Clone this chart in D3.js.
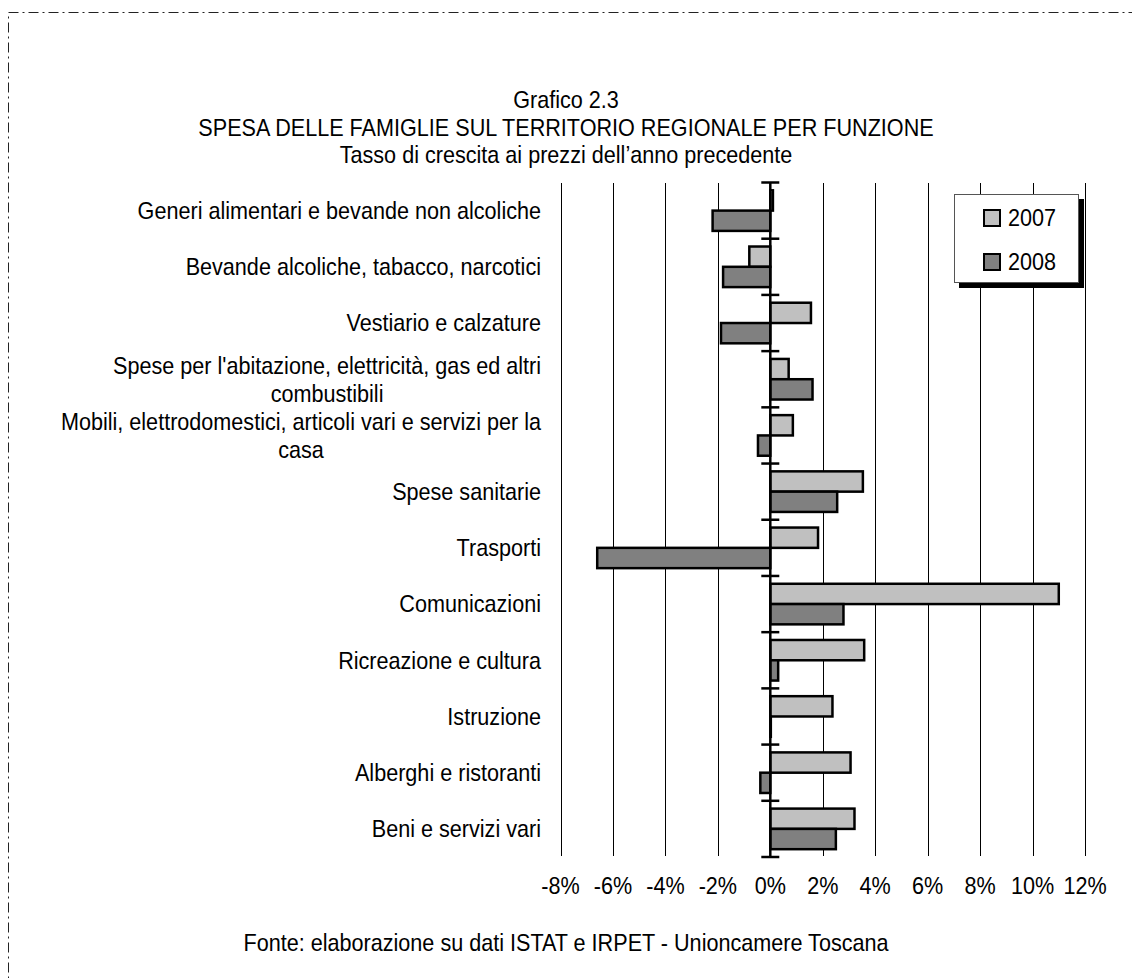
<!DOCTYPE html>
<html>
<head>
<meta charset="utf-8">
<script src="https://cdn.jsdelivr.net/npm/d3@7"></script>
<style>
  body { margin: 0; background: #fff; }
  text { font-family: "Liberation Sans", Arial, sans-serif; fill: #000; }
</style>
</head>
<body>
<div id="main"></div>
<script>
// categories, top to bottom
const categories = [
  ['Generi alimentari e bevande non alcoliche'],
  ['Bevande alcoliche, tabacco, narcotici'],
  ['Vestiario e calzature'],
  ["Spese per l'abitazione, elettricità, gas ed altri", 'combustibili'],
  ['Mobili, elettrodomestici, articoli vari e servizi per la', 'casa'],
  ['Spese sanitarie'],
  ['Trasporti'],
  ['Comunicazioni'],
  ['Ricreazione e cultura'],
  ['Istruzione'],
  ['Alberghi e ristoranti'],
  ['Beni e servizi vari']
];
const years = ['2007', '2008'];
// growth rates in %
const values2007 = [0.1, -0.8, 1.55, 0.7, 0.86, 3.53, 1.82, 11.0, 3.58, 2.37, 3.06, 3.21];
const values2008 = [-2.2, -1.8, -1.88, 1.61, -0.47, 2.55, -6.6, 2.79, 0.3, 0.02, -0.38, 2.5];
const xTicks = [-8, -6, -4, -2, 0, 2, 4, 6, 8, 10, 12];
const titleLines = ['Grafico 2.3',
  'SPESA DELLE FAMIGLIE SUL TERRITORIO REGIONALE PER FUNZIONE',
  'Tasso di crescita ai prezzi dell\u2019anno precedente'];
const sourceText = 'Fonte: elaborazione su dati ISTAT e IRPET - Unioncamere Toscana';

const colors = { '2007': '#c0c0c0', '2008': '#808080' };
const width = 1132, height = 978;
const fs = 24;      // font size
const sx = 0.9;     // horizontal squeeze, narrow look

let svg = d3.select('#main')
  .append('svg')
    .attr('width', width)
    .attr('height', height);

// place a squeezed text at (x, y)
function label(sel, x, y, anchor) {
  return sel.append('text')
    .attr('transform', `translate(${x},${y}) scale(${sx},1)`)
    .attr('dy', '0.35em')
    .attr('text-anchor', anchor)
    .style('font-size', fs + 'px');
}

// dash-dot frame (only top and left edges fall inside the page)
svg.append('rect')
  .attr('x', 8.5).attr('y', 12.5)
  .attr('width', 1200).attr('height', 1100)
  .attr('fill', 'none')
  .attr('stroke', '#222')
  .attr('stroke-width', 1)
  .attr('stroke-dasharray', '10 4 2 4');

// scales
const x = d3.scaleLinear().domain([-8, 12]).range([560.5, 1085]);
const y = d3.scaleBand().domain(d3.range(categories.length)).range([182.5, 857]).padding(0);
const y1 = d3.scaleBand().domain(years).range([0, y.bandwidth()]).paddingInner(0).paddingOuter(0.385);

// gridlines
svg.append('g')
  .selectAll('line')
  .data(xTicks.filter(d => d !== 0))
  .enter()
  .append('line')
    .attr('x1', d => Math.round(x(d)) + 0.5)
    .attr('x2', d => Math.round(x(d)) + 0.5)
    .attr('y1', 183).attr('y2', 856)
    .attr('stroke', '#000')
    .attr('stroke-width', 1);

// bars
const data = [];
categories.forEach((c, i) => {
  data.push({ i: i, year: '2007', v: values2007[i] });
  data.push({ i: i, year: '2008', v: values2008[i] });
});

svg.append('g')
  .selectAll('rect')
  .data(data)
  .enter()
  .append('rect')
    .attr('x', d => x(Math.min(0, d.v)))
    .attr('y', d => y(d.i) + y1(d.year))
    .attr('width', d => Math.abs(x(d.v) - x(0)))
    .attr('height', y1.bandwidth())
    .attr('fill', d => colors[d.year])
    .attr('stroke', '#000')
    .attr('stroke-width', 2.5);

// zero axis with category cross ticks
const zx = x(0);
svg.append('line')
  .attr('x1', zx).attr('x2', zx)
  .attr('y1', y.range()[0]).attr('y2', y.range()[1])
  .attr('stroke', '#000').attr('stroke-width', 2.5);

svg.append('g')
  .selectAll('line')
  .data(d3.range(categories.length + 1))
  .enter()
  .append('line')
    .attr('x1', zx - 9).attr('x2', zx + 9)
    .attr('y1', d => y.range()[0] + d * y.step())
    .attr('y2', d => y.range()[0] + d * y.step())
    .attr('stroke', '#000').attr('stroke-width', 2.5);

// category labels
const lineH = 28;
const catG = svg.append('g');
categories.forEach((lines, i) => {
  const cy = y(i) + y.bandwidth() / 2;
  if (lines.length === 1) {
    label(catG, 541, cy, 'end').text(lines[0]);
  } else {
    const t0 = label(catG, 541, cy - lineH / 2, 'end').text(lines[0]);
    const w = t0.node().getComputedTextLength() * sx;
    label(catG, 541 - w / 2, cy + lineH / 2, 'middle').text(lines[1]);
  }
});

// x tick labels
const tickG = svg.append('g');
xTicks.forEach(d => label(tickG, x(d), 886, 'middle').text(d + '%'));

// titles
const titleG = svg.append('g');
titleLines.forEach((t, i) => label(titleG, 566, 100 + i * 27.5, 'middle').text(t));

// source
label(svg, 566, 943, 'middle').text(sourceText);

// legend with shadow
const lg = svg.append('g');
lg.append('rect')
  .attr('x', 959).attr('y', 199)
  .attr('width', 125).attr('height', 89)
  .attr('fill', '#000');
lg.append('rect')
  .attr('x', 954.5).attr('y', 194.5)
  .attr('width', 124).attr('height', 88)
  .attr('fill', '#fff')
  .attr('stroke', '#555').attr('stroke-width', 1);

years.forEach((yr, i) => {
  const g = lg.append('g').attr('transform', `translate(984,${210 + i * 44})`);
  g.append('rect')
    .attr('width', 16).attr('height', 16)
    .attr('fill', colors[yr])
    .attr('stroke', '#000').attr('stroke-width', 2);
  label(g, 24, 8, 'start').text(yr);
});
</script>
</body>
</html>
